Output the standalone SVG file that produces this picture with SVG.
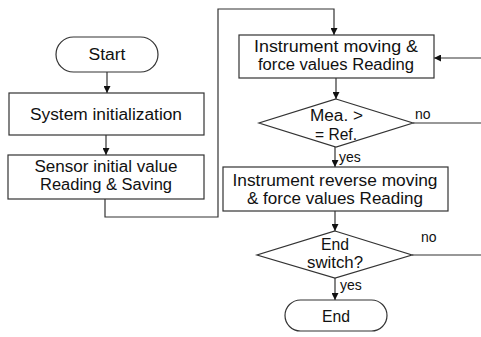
<svg xmlns="http://www.w3.org/2000/svg" width="481" height="337" viewBox="0 0 481 337">
<defs>
<style>
.box{fill:#fff;stroke:#333;stroke-width:1.2}
.ln{fill:none;stroke:#333;stroke-width:1.2}
.arr{marker-end:url(#ah)}
text{font-family:"Liberation Sans",Arial,sans-serif;font-size:16px;fill:#111;text-anchor:middle}
.lbl{font-size:14px;text-anchor:start}
</style>
<marker id="ah" viewBox="0 0 10 10" refX="10" refY="5" markerWidth="7" markerHeight="7" markerUnits="userSpaceOnUse" orient="auto">
<path d="M0,0 L10,5 L0,10 z" fill="#111"/>
</marker>
</defs>
<rect width="481" height="337" fill="#fff"/>
<g id="connectors">
<line class="ln arr" x1="107" y1="72" x2="107" y2="93"/>
<line class="ln arr" x1="106" y1="135" x2="106" y2="155"/>
<polyline class="ln arr" points="105,199 105,217 218,217 218,9 334,9 334,35"/>
<line class="ln arr" x1="336" y1="78" x2="336" y2="99"/>
<line class="ln arr" x1="335" y1="147" x2="335" y2="167"/>
<line class="ln" x1="413" y1="123" x2="481" y2="123"/>
<line class="ln arr" x1="481" y1="58" x2="434" y2="58"/>
<line class="ln arr" x1="335" y1="211" x2="335" y2="231"/>
<line class="ln" x1="412" y1="255" x2="481" y2="255"/>
<line class="ln arr" x1="335" y1="278" x2="335" y2="300"/>
<text class="lbl" x="415" y="119">no</text>
<text class="lbl" x="339" y="162">yes</text>
<text class="lbl" x="421" y="242">no</text>
<text class="lbl" x="340" y="290">yes</text>
</g>
<g id="start">
<rect class="box" x="56" y="37" width="102" height="35" rx="17.5"/>
<text x="107" y="60" textLength="37" lengthAdjust="spacingAndGlyphs">Start</text>
</g>
<g id="init">
<rect class="box" x="9" y="93" width="195" height="42"/>
<text x="106" y="120" textLength="152" lengthAdjust="spacingAndGlyphs">System initialization</text>
</g>
<g id="sensor">
<rect class="box" x="8" y="155" width="196" height="44"/>
<text x="106" y="172"><tspan x="106" textLength="143" lengthAdjust="spacingAndGlyphs">Sensor initial value</tspan><tspan x="106" dy="18" textLength="132" lengthAdjust="spacingAndGlyphs">Reading &amp; Saving</tspan></text>
</g>
<g id="move">
<rect class="box" x="239" y="35" width="195" height="43"/>
<text x="336" y="52"><tspan x="336" textLength="164" lengthAdjust="spacingAndGlyphs">Instrument moving &amp;</tspan><tspan x="336" dy="18" textLength="156" lengthAdjust="spacingAndGlyphs">force values Reading</tspan></text>
</g>
<g id="cmp">
<polygon class="box" points="336,99 413,123 336,147 259,123"/>
<text x="336" y="121"><tspan x="336.5" textLength="53" lengthAdjust="spacingAndGlyphs">Mea. &gt;</tspan><tspan x="336" dy="19" textLength="42" lengthAdjust="spacingAndGlyphs">= Ref.</tspan></text>
</g>
<g id="reverse">
<rect class="box" x="223" y="167" width="225" height="44"/>
<text x="335" y="186"><tspan x="335" textLength="205" lengthAdjust="spacingAndGlyphs">Instrument reverse moving</tspan><tspan x="335" dy="18" textLength="176" lengthAdjust="spacingAndGlyphs">&amp; force values Reading</tspan></text>
</g>
<g id="endsw">
<polygon class="box" points="335,231 412,255 335,278 257,255"/>
<text x="335" y="250"><tspan x="335" textLength="28" lengthAdjust="spacingAndGlyphs">End</tspan><tspan x="335" dy="18" textLength="56" lengthAdjust="spacingAndGlyphs">switch?</tspan></text>
</g>
<g id="end">
<rect class="box" x="285" y="300" width="102" height="31" rx="15.5"/>
<text x="336" y="322" textLength="28" lengthAdjust="spacingAndGlyphs">End</text>
</g>
</svg>
